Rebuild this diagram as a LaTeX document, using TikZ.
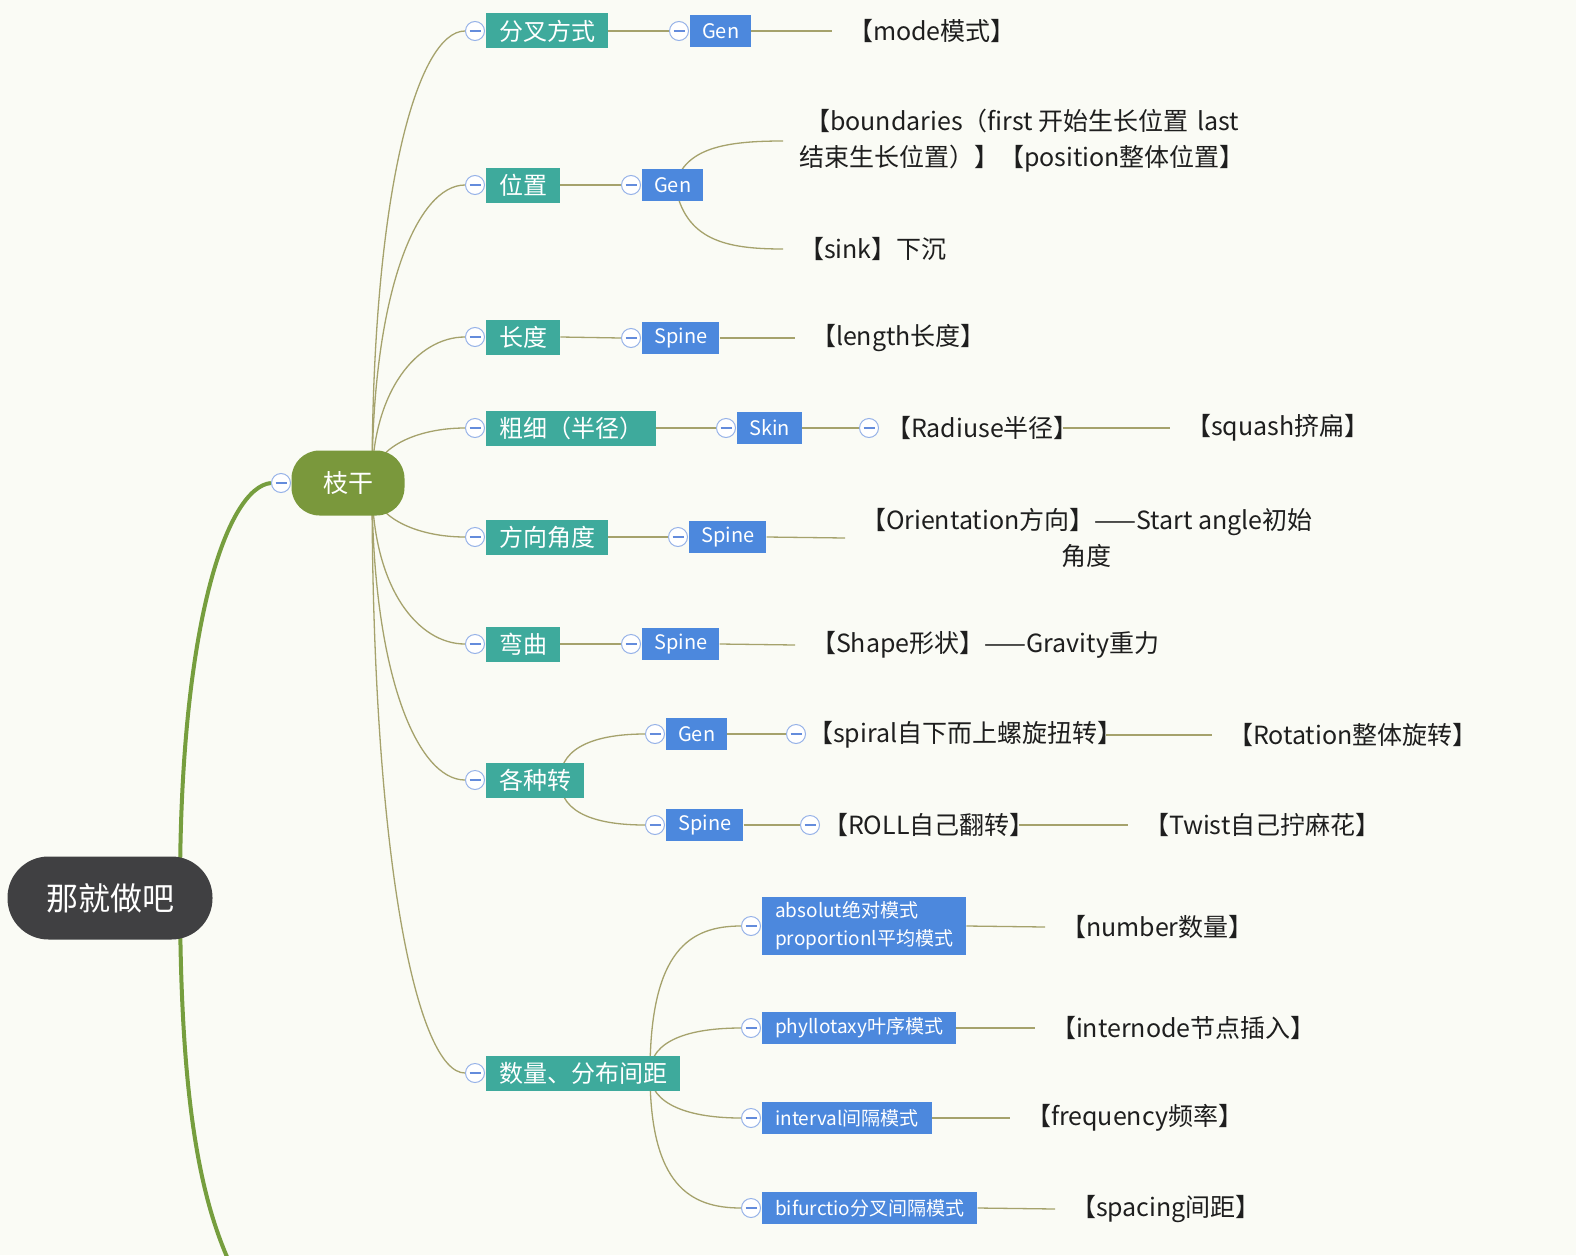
\documentclass[tikz,border=0pt]{standalone}
\usepackage{fontspec}
\setmainfont{Noto Sans CJK SC}
\usetikzlibrary{calc}
\definecolor{bgc}{RGB}{250,251,245}
\definecolor{tealc}{RGB}{62,170,156}
\definecolor{bluec}{RGB}{76,136,221}
\definecolor{olivec}{RGB}{122,152,60}
\definecolor{rootc}{RGB}{64,64,66}
\definecolor{thickc}{RGB}{118,158,62}
\definecolor{linec}{RGB}{165,162,108}
\definecolor{togc}{RGB}{150,178,232}
\definecolor{togm}{RGB}{100,140,220}
\definecolor{txtc}{RGB}{30,30,30}
\pgfdeclarelayer{bgfill}
\pgfdeclarelayer{background}
\pgfsetlayers{bgfill,background,main}
\begin{document}
\begin{tikzpicture}[x=1pt,y=-1pt,
  tealbox/.style={fill=tealc, text=white, font=\fontsize{24}{28}\selectfont, inner xsep=13pt, inner ysep=0pt, minimum height=35pt, anchor=west},
  bluebox/.style={fill=bluec, text=white, font=\fontsize{20}{24}\selectfont, inner xsep=12pt, inner ysep=0pt, minimum height=32pt, anchor=west},
  modebox/.style={bluebox, font=\fontsize{19}{28}\selectfont, inner xsep=13pt, align=left},
  leaf/.style={anchor=west, inner xsep=0pt, outer xsep=16pt, inner ysep=0pt, font=\fontsize{25}{36}\selectfont, text=txtc},
  tog/.style={circle, draw=togc, fill=white, line width=1pt, minimum size=19pt, inner sep=0pt,
    path picture={\draw[togm, line width=1.1pt] ([xshift=-5.5pt]path picture bounding box.center) -- ([xshift=5.5pt]path picture bounding box.center);}},
  conn/.style={draw=linec, line width=1.3pt},
  thick/.style={draw=thickc, line width=4pt}
]
\useasboundingbox (0,0) rectangle (1576,1255);
\begin{pgfonlayer}{bgfill}
\fill[bgc] (0,0) rectangle (1576,1255);
\end{pgfonlayer}

% root and trunk
\node[fill=rootc, text=white, rounded corners=41pt, minimum width=205pt, minimum height=83pt, inner sep=0pt, font=\fontsize{32}{36}\selectfont] (root) at (110,898) {那就做吧};
\node[fill=olivec, text=white, rounded corners=28pt, minimum width=113pt, minimum height=65pt, inner sep=0pt, font=\fontsize{25}{30}\selectfont] (zg) at (348,483) {枝干};
\node[tog] (c0) at (281,483) {};
\coordinate (rootup) at (180,890);
\coordinate (below) at (232,1268);
\coordinate (zgc) at (372,483);

% level 1
\node[tealbox] (t1) at (486,31) {分叉方式};
\node[tealbox] (t2) at (486,185) {位置};
\node[tealbox] (t3) at (486,337) {长度};
\node[tealbox] (t4) at (486,428) {粗细（半径）};
\node[tealbox] (t5) at (486,537) {方向角度};
\node[tealbox] (t6) at (486,644) {弯曲};
\node[tealbox] (t7) at (486,780) {各种转};
\node[tealbox] (t8) at (486,1073) {数量、分布间距};
\foreach \i in {1,...,8}{\node[tog, anchor=east, xshift=-1pt] (ct\i) at (t\i.west) {};}

% level 2
\node[bluebox] (b1) at (690,31) {Gen};
\node[bluebox] (b2) at (642,185) {Gen};
\node[bluebox] (b3) at (642,338) {Spine};
\node[bluebox] (b4) at (737,428) {Skin};
\node[bluebox] (b5) at (689,537) {Spine};
\node[bluebox] (b6) at (642,644) {Spine};
\node[bluebox] (b7) at (666,734) {Gen};
\node[bluebox] (b8) at (666,825) {Spine};
\node[modebox, minimum height=58pt] (b9) at (762,926) {absolut绝对模式\\proportionl平均模式};
\node[modebox] (b10) at (762,1028) {phyllotaxy叶序模式};
\node[modebox] (b11) at (762,1118) {interval间隔模式};
\node[modebox] (b12) at (762,1208) {bifurctio分叉间隔模式};
\foreach \i in {1,...,12}{\node[tog, anchor=east, xshift=-1pt] (cb\i) at (b\i.west) {};}

% leaves
\node[leaf] (l1) at (832,31) {【mode模式】};
\node[leaf, align=left] (l2) at (783,141) {\hspace*{6pt}【boundaries（first 开始生长位置\hspace{9pt}last\\结束生长位置）】【position整体位置】};
\node[leaf] (l3) at (783,249) {【sink】下沉};
\node[leaf] (l4) at (795,338) {【length长度】};
\node[tog] (cl5) at (869,428) {};
\node[leaf] (l5) at (870,428) {【Radiuse半径】};
\node[leaf] (l6) at (1170,428) {【squash挤扁】};
\node[leaf, align=center] (l7) at (845,538) {【Orientation方向】——Start angle初始\\角度};
\node[leaf] (l8) at (795,645) {【Shape形状】——Gravity重力};
\node[tog] (cl9) at (796,734) {};
\node[leaf] (l9) at (792,735) {【spiral自下而上螺旋扭转】};
\node[leaf] (l10) at (1212,735) {【Rotation整体旋转】};
\node[tog] (cl11) at (810,825) {};
\node[leaf] (l11) at (807,825) {【ROLL自己翻转】};
\node[leaf] (l12) at (1128,825) {【Twist自己拧麻花】};
\node[leaf] (l13) at (1045,927) {【number数量】};
\node[leaf] (l14) at (1035,1028) {【internode节点插入】};
\node[leaf] (l15) at (1010,1118) {【frequency频率】};
\node[leaf] (l16) at (1055,1209) {【spacing间距】};
\coordinate (g2c) at (675,185);
\coordinate (t7c) at (560,780);
\coordinate (t8c) at (650,1073);

\begin{pgfonlayer}{background}
% thick root connectors
\draw[thick] (rootup) .. controls (180,620) and (228,487) .. (c0.west);
\draw[thick] (rootup) .. controls (180,1100) and (200,1200) .. (below);
% trunk to level 1
\draw[conn] (zgc) .. controls (372,189) and (418,31) .. (ct1.west);
\draw[conn] (zgc) .. controls (372,289) and (418,185) .. (ct2.west);
\draw[conn] (zgc) .. controls (372,390) and (418,337) .. (ct3.west);
\draw[conn] (zgc) .. controls (372,447) and (418,428) .. (ct4.west);
\draw[conn] (zgc) .. controls (372,518) and (418,537) .. (ct5.west);
\draw[conn] (zgc) .. controls (372,588) and (418,644) .. (ct6.west);
\draw[conn] (zgc) .. controls (372,676) and (418,780) .. (ct7.west);
\draw[conn] (zgc) .. controls (372,866) and (418,1073) .. (ct8.west);
% level 1 to level 2
\foreach \i in {1,...,6}{\draw[conn] (t\i.east) -- (cb\i.west);}
\draw[conn] (t7c) .. controls (560,745) and (600,734) .. (cb7.west);
\draw[conn] (t7c) .. controls (560,815) and (600,825) .. (cb8.west);
\draw[conn] (t8c) .. controls (650,950) and (690,926) .. (cb9.west);
\draw[conn] (t8c) .. controls (650,1040) and (690,1028) .. (cb10.west);
\draw[conn] (t8c) .. controls (650,1105) and (690,1118) .. (cb11.west);
\draw[conn] (t8c) .. controls (650,1185) and (690,1208) .. (cb12.west);
% level 2 to leaves
\draw[conn] (b1.east) -- (l1.west);
\draw[conn] (g2c) .. controls (685,148) and (725,141) .. (l2.west);
\draw[conn] (g2c) .. controls (685,240) and (725,249) .. (l3.west);
\draw[conn] (b3.east) -- (l4.west);
\draw[conn] (b4.east) -- (cl5.west);
\draw[conn] ([xshift=-32pt]l5.east) -- (l6.west);
\draw[conn] (b5.east) -- (l7.west);
\draw[conn] (b6.east) -- (l8.west);
\draw[conn] (b7.east) -- (cl9.west);
\draw[conn] ([xshift=-32pt]l9.east) -- (l10.west);
\draw[conn] (b8.east) -- (cl11.west);
\draw[conn] ([xshift=-32pt]l11.east) -- (l12.west);
\draw[conn] (b9.east) -- (l13.west);
\draw[conn] (b10.east) -- (l14.west);
\draw[conn] (b11.east) -- (l15.west);
\draw[conn] (b12.east) -- (l16.west);
\end{pgfonlayer}
\end{tikzpicture}
\end{document}
